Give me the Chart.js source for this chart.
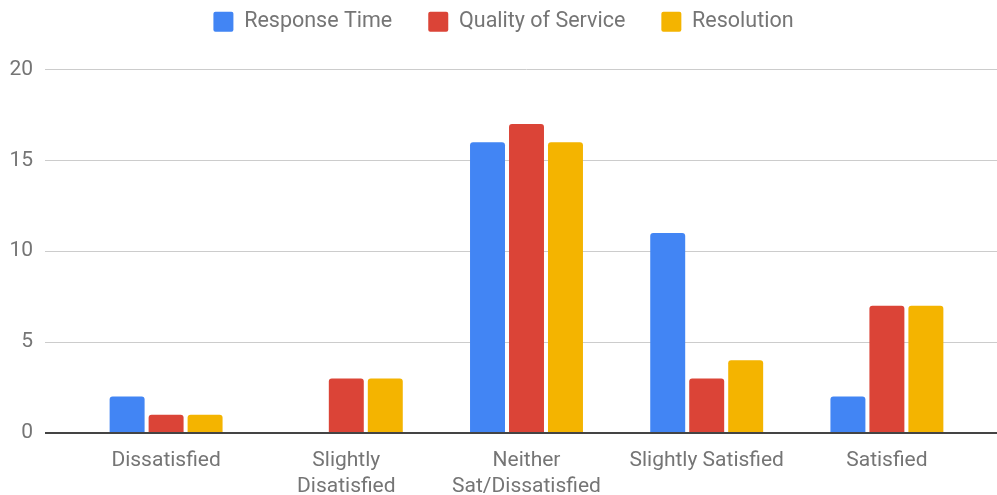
<!DOCTYPE html>
<html>
<head>
<meta charset="utf-8">
<script src="https://cdn.jsdelivr.net/npm/chart.js@4"></script>
<style>
  html, body { margin: 0; padding: 0; background: #fff; }
  #wrap { width: 997px; height: 495px; }
</style>
</head>
<body>
<div id="wrap"><canvas id="myChart"></canvas></div>
<script>
// categories and series
const categories = [
    'Dissatisfied',
    ['Slightly', 'Disatisfied'],
    ['Neither', 'Sat/Dissatisfied'],
    'Slightly Satisfied',
    'Satisfied'
];
const responseTime = [2, 0, 16, 11, 2];
const qualityOfService = [1, 3, 17, 3, 7];
const resolution = [1, 3, 16, 4, 7];
const yTicks = [0, 5, 10, 15, 20];

const grey = '#757575';
const labelFont = { family: 'Roboto', size: 21 };

const bar = (label, color, values) => ({
    label: label,
    data: values,
    backgroundColor: color,
    borderRadius: { topLeft: 3, topRight: 3 },
    borderSkipped: 'bottom',
    categoryPercentage: 0.649,
    barPercentage: 0.897
});

// gridline colour / width: the zero line is the dark baseline
const gridColor = (ctx) => (ctx.tick && ctx.tick.value === 0 ? '#444' : '#cccccc');
const gridWidth = (ctx) => (ctx.tick && ctx.tick.value === 0 ? 2 : 1);

// push the plot down below the legend
const legendMargin = {
    id: 'legendMargin',
    beforeInit(chart) {
        const fit = chart.legend.fit;
        chart.legend.fit = function () {
            fit.bind(chart.legend)();
            this.height += 27;
        };
    }
};

const data = {
    labels: categories,
    datasets: [
        bar('Response Time', '#4285F4', responseTime),
        bar('Quality of Service', '#DB4437', qualityOfService),
        bar('Resolution', '#F4B400', resolution)
    ]
};

const config = {
    type: 'bar',
    data: data,
    plugins: [legendMargin],
    options: {
        responsive: true,
        maintainAspectRatio: false,
        animation: false,
        layout: { padding: { top: -25, left: 10, right: 0, bottom: -20 } },
        plugins: {
            legend: {
                position: 'top',
                labels: {
                    font: { family: 'Roboto', size: 21.5 },
                    color: grey,
                    boxWidth: 20,
                    boxHeight: 20,
                    padding: 36,
                    useBorderRadius: true,
                    borderRadius: 2
                }
            },
            tooltip: { enabled: false }
        },
        scales: {
            x: {
                grid: { display: false, drawTicks: false },
                border: { display: false },
                ticks: {
                    font: { family: 'Roboto', size: 21, lineHeight: 1.24 },
                    color: grey,
                    maxRotation: 0,
                    autoSkip: false,
                    padding: 15
                }
            },
            y: {
                position: 'left',
                min: 0,
                max: 20,
                afterBuildTicks: (scale) => { scale.ticks = yTicks.map(v => ({ value: v })); },
                afterFit: (scale) => { scale.width = 66; },
                grid: { color: gridColor, lineWidth: gridWidth, drawTicks: true, tickLength: 31 },
                border: { display: false },
                ticks: { font: labelFont, color: grey, padding: 12 }
            },
            yRight: {
                position: 'right',
                min: 0,
                max: 20,
                afterBuildTicks: (scale) => { scale.ticks = yTicks.map(v => ({ value: v })); },
                afterFit: (scale) => { scale.width = 20; },
                grid: { color: gridColor, lineWidth: gridWidth, drawOnChartArea: false, drawTicks: true, tickLength: 20 },
                border: { display: false },
                ticks: { display: false }
            }
        }
    }
};

// eslint-disable-next-line
const myChart = new Chart(document.getElementById('myChart'), config);
</script>
</body>
</html>
